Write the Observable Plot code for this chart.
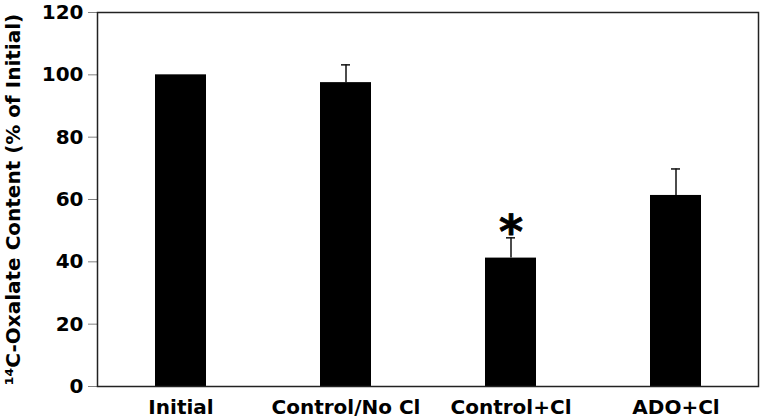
<!DOCTYPE html>
<html>
<head>
<meta charset="utf-8">
<script src="https://cdn.jsdelivr.net/npm/d3@7"></script>
<script src="https://cdn.jsdelivr.net/npm/@observablehq/plot@0.6"></script>
<style>
  html, body { margin: 0; padding: 0; background: white; }
</style>
</head>
<body>
<div id="chart"></div>
<script>
const categories = ["Initial", "Control/No Cl", "Control+Cl", "ADO+Cl"];
const means = [100, 97.5, 41.2, 61.3];
const sems = [0, 5.7, 6.5, 8.5];
const significance = ["", "", "*", ""];
const yTicks = [0, 20, 40, 60, 80, 100, 120];
const yLabel = "¹⁴C-Oxalate Content (% of Initial)";

const data = categories.map((c, i) => ({
  cat: c, mean: means[i], sem: sems[i], top: means[i] + sems[i], sig: significance[i]
}));
const withErr = data.filter(d => d.sem > 0);
const withSig = data.filter(d => d.sig);

const chart = Plot.plot({
  width: 760,
  height: 420,
  marginLeft: 97,
  marginRight: 2,
  marginTop: 12,
  marginBottom: 34,
  style: { fontFamily: "DejaVu Sans", fontWeight: "bold", fontSize: "20px", background: "white", color: "black" },
  x: { domain: categories, paddingInner: 0.691, paddingOuter: 0.3457 },
  y: { domain: [0, 120] },
  marks: [
    Plot.barY(data, { x: "cat", y: "mean", fill: "black" }),
    Plot.ruleX(withErr, { x: "cat", y1: "mean", y2: "top", stroke: "#111", strokeWidth: 1.5 }),
    Plot.tickY(withErr, { x: "cat", y: "top", stroke: "#111", strokeWidth: 1.5, insetLeft: 21, insetRight: 21 }),
    Plot.text(withSig, { x: "cat", y: "top", text: "sig", fontSize: 46, fontWeight: "bold", lineAnchor: "bottom", dy: 10, fill: "black", stroke: "black", strokeWidth: 0.8 }),
    Plot.frame({ stroke: "#222", strokeWidth: 1.5 }),
    Plot.axisY({ ticks: yTicks, tickSize: 9, tickPadding: 5, fontSize: 20, fontWeight: "bold", stroke: "black", strokeWidth: 0.5,
                 label: yLabel, labelAnchor: "center", labelArrow: "none", labelOffset: 92 }),
    Plot.axisX({ tickSize: 0, tickPadding: 13, fontSize: 20, fontWeight: "bold", stroke: "black", strokeWidth: 0.5, label: null })
  ]
});
document.getElementById("chart").appendChild(chart);
</script>
</body>
</html>
